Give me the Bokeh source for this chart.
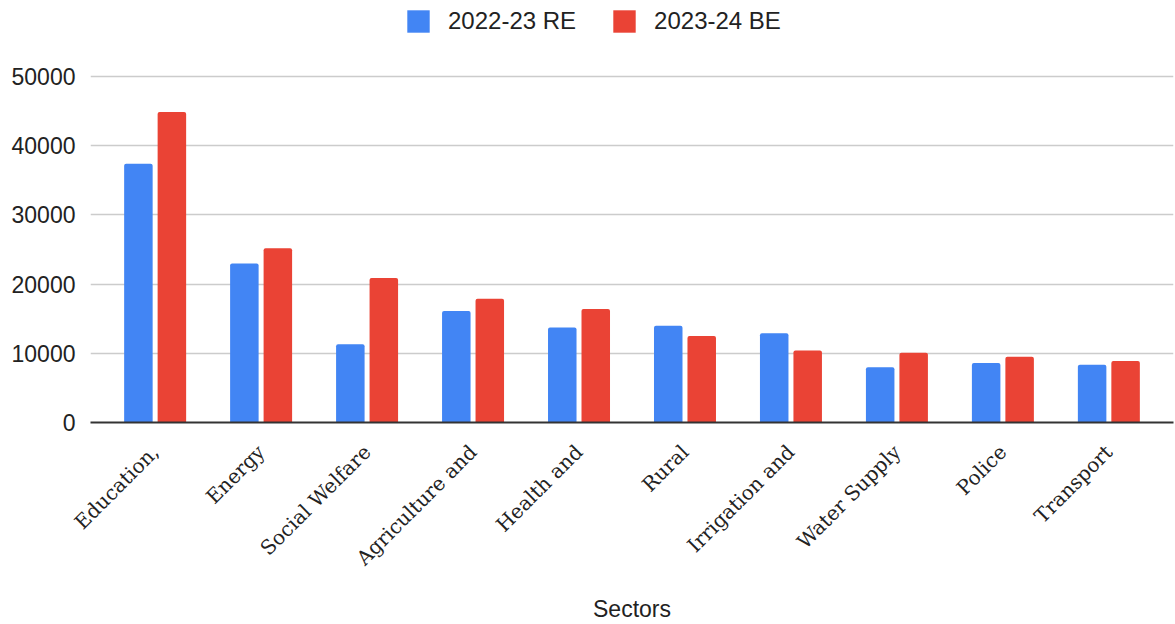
from bokeh.plotting import figure
from bokeh.models import FactorRange, Range1d, FixedTicker, Legend, LegendItem, ColumnDataSource
from bokeh.transform import dodge
from bokeh.embed import file_html
from bokeh.resources import INLINE
import math

sectors = ["Education,", "Energy", "Social Welfare", "Agriculture and", "Health and",
           "Rural", "Irrigation and", "Water Supply", "Police", "Transport"]
re_2022_23 = [37400, 23000, 11300, 16100, 13750, 14000, 12900, 8000, 8600, 8350]
be_2023_24 = [44900, 25200, 20900, 17900, 16400, 12500, 10400, 10100, 9500, 8900]
y_ticks = [0, 10000, 20000, 30000, 40000, 50000]
series_names = ["2022-23 RE", "2023-24 BE"]

src = ColumnDataSource(dict(sector=sectors, re=re_2022_23, be=be_2023_24))

# frame spans the full top of the page so the legend (drawn inside) is not clipped;
# the top tick (50000) lands at the same height as in the reference
p = figure(width=1175, height=624, output_backend="svg", toolbar_location=None,
           x_range=FactorRange(*sectors, range_padding=0.022, range_padding_units="percent"),
           y_range=Range1d(0, 61000),
           min_border_left=90, min_border_right=2, min_border_top=0, min_border_bottom=202)
p.outline_line_color = None
p.background_fill_color = "white"
p.border_fill_color = "white"

r1 = p.vbar(x=dodge("sector", -0.158, range=p.x_range), top="re", width=0.269, source=src,
            fill_color="#4285F4", line_color=None, border_radius=(2, 2, 0, 0))
r2 = p.vbar(x=dodge("sector", 0.158, range=p.x_range), top="be", width=0.269, source=src,
            fill_color="#EA4335", line_color=None, border_radius=(2, 2, 0, 0))

p.xgrid.grid_line_color = None
p.ygrid.grid_line_color = "#cccccc"
p.ygrid.grid_line_width = 1.5
p.yaxis.ticker = FixedTicker(ticks=y_ticks)

p.yaxis.axis_line_color = None
p.yaxis.major_tick_line_color = None
p.yaxis.minor_tick_line_color = None
p.yaxis.major_label_text_font = "Liberation Sans"
p.yaxis.major_label_text_font_size = "23px"
p.yaxis.major_label_text_color = "#222222"
p.yaxis.major_label_standoff = 9

p.xaxis.axis_line_color = "#333333"
p.xaxis.axis_line_width = 2
p.xaxis.major_tick_line_color = None
p.xaxis.minor_tick_line_color = None
p.xaxis.major_label_orientation = math.pi / 4
p.xaxis.major_label_text_font = "DejaVu Serif"
p.xaxis.major_label_text_font_size = "20px"
p.xaxis.major_label_text_color = "#222222"
p.xaxis.major_label_standoff = 20
p.xaxis.axis_label = "Sectors"
p.xaxis.axis_label_text_font = "Liberation Sans"
p.xaxis.axis_label_text_font_size = "23px"
p.xaxis.axis_label_text_font_style = "normal"
p.xaxis.axis_label_text_color = "#222222"
p.xaxis.axis_label_standoff = 14

legend = Legend(items=[LegendItem(label=series_names[0], renderers=[r1]),
                       LegendItem(label=series_names[1], renderers=[r2])],
                orientation="horizontal", location=(314, 387),
                padding=0, margin=0, spacing=34, label_standoff=16,
                glyph_width=28, glyph_height=28, label_height=28,
                label_text_font="Liberation Sans", label_text_font_size="24px",
                label_text_color="#222222", border_line_color=None,
                background_fill_alpha=0)
p.add_layout(legend, "center")

open("out.html", "w").write(file_html(p, INLINE))
